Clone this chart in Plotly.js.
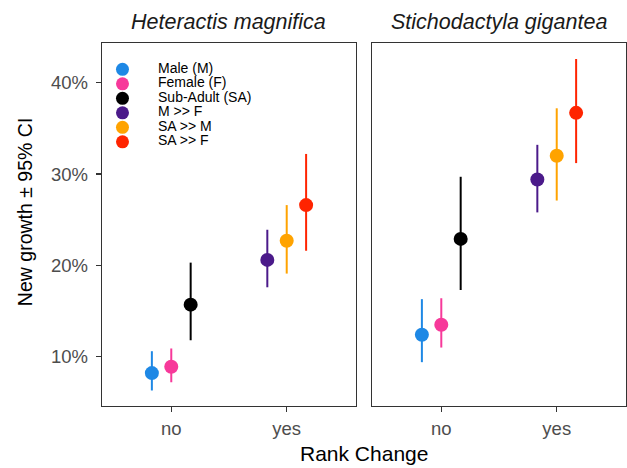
<!DOCTYPE html>
<html>
<head>
<meta charset="utf-8">
<script src="https://cdn.plot.ly/plotly-3.0.1.min.js"></script>
<style>html,body{margin:0;padding:0;background:#fff;}#chart{width:627px;height:468px;}</style>
</head>
<body>
<div id="chart"></div>
<script>
// ---- data ----
var species = ['Heteractis magnifica', 'Stichodactyla gigantea'];
var groups = ['Male (M)', 'Female (F)', 'Sub-Adult (SA)', 'M >> F', 'SA >> M', 'SA >> F'];
var rankChange = ['no', 'no', 'no', 'yes', 'yes', 'yes'];
var rankLevels = ['no', 'yes'];
var dodgeSlot = [-1, 0, 1, -1, 0, 1];
var groupColors = ['#1E88E5', '#F7399A', '#000000', '#4B1A8A', '#FFA300', '#FF2400'];

var heteractisMean  = [8.2, 8.9, 15.7, 20.6, 22.7, 26.6];
var heteractisLower = [6.3, 7.2, 11.8, 17.6, 19.1, 21.6];
var heteractisUpper = [10.6, 10.9, 20.3, 23.9, 26.6, 32.2];

var stichodactylaMean  = [12.4, 13.5, 22.9, 29.4, 32.0, 36.7];
var stichodactylaLower = [9.4, 11.0, 17.3, 25.8, 27.1, 31.2];
var stichodactylaUpper = [16.3, 16.4, 29.7, 33.2, 37.2, 42.6];

var yTicks = [10, 20, 30, 40];
var yTickLabels = ['10%', '20%', '30%', '40%'];

// ---- build ----
var dodgeWidth = 0.168;
var panels = [
  {mean: heteractisMean, lower: heteractisLower, upper: heteractisUpper, xa: 'x', ya: 'y'},
  {mean: stichodactylaMean, lower: stichodactylaLower, upper: stichodactylaUpper, xa: 'x2', ya: 'y2'}
];
var traces = [];
panels.forEach(function (p) {
  groups.forEach(function (g, i) {
    var xpos = rankLevels.indexOf(rankChange[i]) + dodgeSlot[i] * dodgeWidth;
    traces.push({
      type: 'scatter', mode: 'markers', name: g, showlegend: false,
      xaxis: p.xa, yaxis: p.ya,
      x: [xpos], y: [p.mean[i]],
      marker: {color: groupColors[i], size: 14, line: {width: 0}},
      error_y: {type: 'data', symmetric: false,
        array: [p.upper[i] - p.mean[i]], arrayminus: [p.mean[i] - p.lower[i]],
        color: groupColors[i], thickness: 2, width: 0},
      cliponaxis: false
    });
  });
});

// legend drawn on its own small axes
var legendIdx = groups.map(function (g, i) { return i; });
traces.push({
  type: 'scatter', mode: 'markers', xaxis: 'x3', yaxis: 'y3', showlegend: false, hoverinfo: 'skip',
  x: groups.map(function () { return 0; }), y: legendIdx,
  marker: {color: groupColors, size: 13, line: {width: 0}}, cliponaxis: false
});
traces.push({
  type: 'scatter', mode: 'text', xaxis: 'x3', yaxis: 'y3', showlegend: false, hoverinfo: 'skip',
  x: groups.map(function () { return 1; }), y: legendIdx, text: groups,
  textposition: 'middle right', textfont: {family: 'Liberation Sans, Arial, sans-serif', size: 14, color: '#000'},
  cliponaxis: false
});

var axisFont = {family: 'Liberation Sans, Arial, sans-serif', size: 18.5, color: '#4D4D4D'};
var frame = {showline: true, mirror: true, linecolor: '#333333', linewidth: 1.3,
  showgrid: false, zeroline: false, ticks: 'outside', ticklen: 5, tickwidth: 1.3, tickcolor: '#333333'};
function ax(extra) { return Object.assign({}, frame, extra); }

var d1 = [0, 0.4847], d2 = [0.5153, 1];
var layout = {
  width: 627, height: 468,
  margin: {l: 102, r: 1, t: 43, b: 62},
  paper_bgcolor: '#ffffff', plot_bgcolor: 'rgba(0,0,0,0)',
  font: {family: 'Liberation Sans, Arial, sans-serif', color: '#000'},
  showlegend: false,
  xaxis: ax({domain: d1, range: [-0.6, 1.6], tickvals: [0, 1], ticktext: rankLevels, tickfont: axisFont, anchor: 'y'}),
  xaxis2: ax({domain: d2, range: [-0.6, 1.6], tickvals: [0, 1], ticktext: rankLevels, tickfont: axisFont, anchor: 'y2'}),
  yaxis: ax({domain: [0, 1], range: [4.6, 44.35], tickvals: yTicks, ticktext: yTickLabels, tickfont: axisFont, anchor: 'x', ticklabelstandoff: 4}),
  yaxis2: ax({domain: [0, 1], range: [4.6, 44.35], tickvals: yTicks, showticklabels: false, ticks: '', anchor: 'x2'}),
  xaxis3: {domain: [0.0391, 0.1069], range: [0, 1], visible: false, anchor: 'y3', fixedrange: true},
  yaxis3: {domain: [0.7278, 0.9275], range: [5, 0], visible: false, anchor: 'x3', fixedrange: true},
  annotations: [
    {text: species[0], xref: 'paper', yref: 'paper', x: (d1[0] + d1[1]) / 2, y: 1, yshift: 21,
     xanchor: 'center', yanchor: 'middle', showarrow: false,
     font: {size: 21.5, color: '#1A1A1A', style: 'italic'}},
    {text: species[1], xref: 'paper', yref: 'paper', x: (d2[0] + d2[1]) / 2, y: 1, yshift: 21,
     xanchor: 'center', yanchor: 'middle', showarrow: false,
     font: {size: 21.5, color: '#1A1A1A', style: 'italic'}},
    {text: 'Rank Change', xref: 'paper', yref: 'paper', x: 0.5, y: -0.132,
     xanchor: 'center', yanchor: 'middle', showarrow: false, font: {size: 21, color: '#000'}},
    {text: 'New growth ± 95% CI', xref: 'paper', yref: 'paper', x: -0.147, y: 0.534, textangle: -90,
     xanchor: 'center', yanchor: 'middle', showarrow: false, font: {size: 19.5, color: '#000'}}
  ]
};

Plotly.newPlot('chart', traces, layout, {displayModeBar: false, staticPlot: true});
</script>
</body>
</html>
